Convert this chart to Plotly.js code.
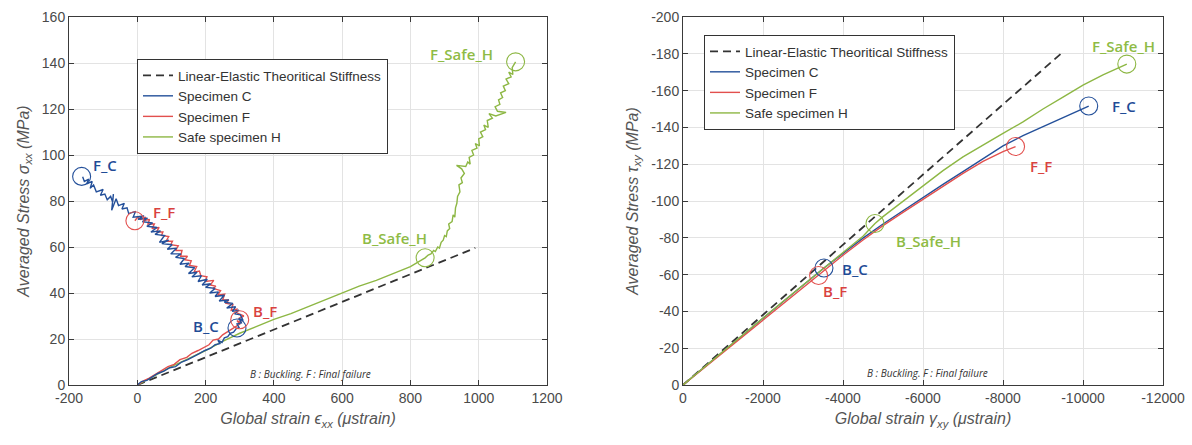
<!DOCTYPE html>
<html>
<head>
<meta charset="utf-8">
<script src="https://cdn.plot.ly/plotly-3.0.1.min.js"></script>
<style>html,body{margin:0;padding:0;background:#fff;}#chart{width:1192px;height:445px;}</style>
</head>
<body>
<div id="chart"></div>
<script>
// ---------- LEFT: sigma_xx vs epsilon_xx ----------
const leftElasticX = [0, 990];
const leftElasticY = [0, 59.6];

const leftCx = [0,12,28,45,60,78,95,112,130,148,165,180,198,215,228,242,236,248,255,265,272,282,290,298,292,305,298,310,302,285,298,278,288,262,280,255,268,240,255,228,238,212,228,200,215,190,205,178,188,160,175,150,168,140,152,125,138,112,128,98,115,88,102,72,92,65,80,52,68,40,58,28,45,15,30,2,20,-12,-5,-25,-30,-45,-38,-55,-62,-75,-70,-72,-78,-88,-95,-108,-100,-120,-128,-138,-132,-148,-142,-155,-160];
const leftCy = [0,1.5,2,3.5,5,6,7.5,8,10,11,12.5,13.5,15,16,17.5,18,19.5,18.5,20.5,21,22.5,23,24.5,25,26.5,27,29,28,30.5,31,32.5,32,34,33.5,35.5,36,37,36.5,39,38.5,40.5,40,42,42.5,44,43.5,46,45,47.5,47,49,48.5,51,51.5,53,52.5,55,55.5,57,57,59.5,59,61,61.5,63,62,65,65.5,67,66.5,68.5,69,70.5,71,72.5,72,73.5,73,75.5,74.5,77,76.5,79,78,81,76,83,79.5,82,80.5,83,82.5,85,84,87,85.5,88.5,87.5,89.5,88.5,90.5];

const leftFx = [0,18,35,55,72,90,108,125,145,160,178,195,210,222,238,250,262,275,288,300,292,305,298,312,290,292,275,280,260,268,250,256,235,244,222,230,214,224,198,204,186,182,166,174,153,158,139,147,127,131,112,120,98,103,84,92,71,75,56,64,43,50,31,36,19,25,10,1,-7];
const leftFy = [0,1.8,3,4.8,6,8,9,11,12,13.8,15,16.5,17.5,19.5,20,21.8,23,24,25.5,26.5,28,27,29,30,31.5,33,32.5,35,35.5,37,37,39.5,39,41,42,43,43.5,45.5,45,47,47.5,49.5,49,51.5,52,54,54.5,56,56,58.5,58.5,60.5,61,62.5,62.5,64.5,65,66.5,66.5,68.5,68,70,70,72,71.5,73,72,73,71.4];

const leftHx = [0,50,100,150,200,250,300,350,400,450,500,550,600,650,700,750,800,843,852,860,868,873,880,885,890,896,900,905,908,915,912,922,925,930,932,936,938,945,942,952,948,958,950,935,962,968,975,972,985,980,995,990,1002,1000,1012,1005,1020,1015,1028,1025,1040,1030,1050,1080,1055,1048,1062,1058,1070,1064,1078,1072,1088,1080,1095,1088,1100,1098,1108];
const leftHy = [0,4,8,11.5,15,19,22.5,25.5,28.5,31,34,37,40,43,45.5,48.5,51.5,55.3,56.5,57,58.5,58,60,59.5,62,63,65,64.5,67,68,70,71,74,73,77,79,82,84,87,88,90,92,94,95.5,95,97,96,99,100,102,103,105,104,107,108,110,111,113,112,115,116,118,117,118.5,119,121,122,124,125,127,128,130,131,133,134,136,135,138,140.5];

// event points (circles) left
const leftEventsC = {x: [292, -163], y: [24.8, 90.7]};
const leftEventsF = {x: [300, -7], y: [28.4, 71.4]};
const leftEventsH = {x: [843, 1108], y: [55.3, 140.5]};

// ---------- RIGHT: tau_xy vs gamma_xy ----------
const rightElasticX = [0, -9476];
const rightElasticY = [0, -180.6];

const rightCx = [0,-500,-1000,-1500,-2000,-2500,-3000,-3524,-4000,-4500,-5000,-5500,-6000,-6500,-7000,-7500,-8000,-8500,-9000,-9500,-9800,-10143];
const rightCy = [0,-9.2,-18.3,-27.2,-36.3,-45.2,-54.3,-63.6,-71.5,-79.8,-87.5,-94.8,-101.8,-109,-116,-123,-130,-135.5,-140.5,-145.5,-148.5,-151.6];

const rightFx = [0,-500,-1000,-1500,-2000,-2500,-3000,-3390,-4000,-4500,-5000,-5500,-6000,-6500,-7000,-7500,-8000,-8314];
const rightFy = [0,-8.8,-17.6,-26.5,-35.5,-44.3,-53,-59.5,-70.5,-78.8,-86.6,-93.8,-100.8,-108,-115,-121.5,-126.8,-129.6];

const rightHx = [0,-500,-1000,-1500,-2000,-2500,-3000,-3500,-4000,-4500,-4800,-5000,-5500,-6000,-6500,-7000,-7500,-8000,-8500,-9000,-9500,-10000,-10500,-11095];
const rightHy = [0,-9.2,-18.3,-27.4,-36.4,-45.4,-54.4,-63.3,-72,-80.8,-87.8,-91.5,-100,-108.5,-116.5,-124,-130.5,-136.7,-143,-150,-156.5,-163,-168.5,-174.4];

const rightEventsC = {x: [-3524, -10143], y: [-63.6, -151.6]};
const rightEventsF = {x: [-3390, -8314], y: [-59.5, -129.6]};
const rightEventsH = {x: [-4800, -11095], y: [-87.8, -174.4]};

// tick labels
const leftXTicks = [-200,0,200,400,600,800,1000,1200];
const leftYTicks = [0,20,40,60,80,100,120,140,160];
const rightXTicks = [0,-2000,-4000,-6000,-8000,-10000,-12000];
const rightYTicks = [0,-20,-40,-60,-80,-100,-120,-140,-160,-180,-200];

const legendNames = ['Linear-Elastic Theoritical Stiffness','Specimen C','Specimen F','Safe specimen H'];

// ---------- styling ----------
const BLUE = '#24509A', RED = '#E2504E', GREEN = '#8DB744';
const BLUE_T = '#1F4C96', RED_T = '#D9423F', GREEN_T = '#8EBB45';

function series(x, y, name, rank, color, xa, ya, lg, dash) {
  return {x, y, name, legendrank: rank, type:'scatter', mode:'lines', xaxis:xa, yaxis:ya, legend:lg,
    line:{color, width: dash ? 1.8 : 1.4, dash: dash ? '8px,5px' : 'solid'}};
}
function circles(ev, color, xa, ya) {
  return {x: ev.x, y: ev.y, type:'scatter', mode:'markers', xaxis:xa, yaxis:ya, showlegend:false,
    marker:{symbol:'circle-open', size:18, color, line:{color, width:1.1}}};
}

const data = [
  series(leftElasticX, leftElasticY, legendNames[0], 1, '#333', 'x', 'y', 'legend', true),
  series(leftHx, leftHy, legendNames[3], 4, GREEN, 'x', 'y', 'legend'),
  series(leftFx, leftFy, legendNames[2], 3, RED, 'x', 'y', 'legend'),
  series(leftCx, leftCy, legendNames[1], 2, BLUE, 'x', 'y', 'legend'),
  circles(leftEventsC, BLUE, 'x', 'y'),
  circles(leftEventsF, RED, 'x', 'y'),
  circles(leftEventsH, GREEN, 'x', 'y'),
  series(rightElasticX, rightElasticY, legendNames[0], 1, '#333', 'x2', 'y2', 'legend2', true),
  series(rightCx, rightCy, legendNames[1], 2, BLUE, 'x2', 'y2', 'legend2'),
  series(rightFx, rightFy, legendNames[2], 3, RED, 'x2', 'y2', 'legend2'),
  series(rightHx, rightHy, legendNames[3], 4, GREEN, 'x2', 'y2', 'legend2'),
  circles(rightEventsC, BLUE, 'x2', 'y2'),
  circles(rightEventsF, RED, 'x2', 'y2'),
  circles(rightEventsH, GREEN, 'x2', 'y2')
];
const tickFont = {family:'Liberation Sans, Arial, sans-serif', size:14, color:'#4a4a4a'};
const titleFont = {family:'Liberation Sans, Arial, sans-serif', size:16, color:'#555'};
function axis(domain, range, ticks, anchor, titleText) {
  return {domain, range, anchor, tickvals: ticks, ticktext: ticks.map(String),
    showgrid:true, gridcolor:'#e3e3e3', gridwidth:1, zeroline:false,
    showline:true, linecolor:'#3a3a3a', linewidth:1, mirror:'ticks',
    ticks:'inside', ticklen:5, tickcolor:'#3a3a3a', tickfont:tickFont,
    title:{text:titleText, font:titleFont, standoff:8}};
}

const lbl = (text, x, y, color, xref, yref, size) => ({text, x, y, xref, yref, showarrow:false,
  font:{family:'Open Sans, Noto Sans, sans-serif', size: size || 15, color, weight:600}});

const annotations = [
  lbl('F_C', -96, 95.8, BLUE_T, 'x', 'y'),
  lbl('F_F', 79, 75.4, RED_T, 'x', 'y'),
  lbl('B_C', 201, 25.8, BLUE_T, 'x', 'y'),
  lbl('B_F', 374, 32, RED_T, 'x', 'y'),
  lbl('B_Safe_H', 753, 64, GREEN_T, 'x', 'y'),
  lbl('F_Safe_H', 950, 143.8, GREEN_T, 'x', 'y'),
  {text:'<i>B : Buckling. F : Final failure</i>', x:508, y:4.7, xref:'x', yref:'y', showarrow:false,
   font:{family:'Open Sans, sans-serif', size:10, color:'#333'}},
  lbl('F_Safe_H', -11000, -184, GREEN_T, 'x2', 'y2'),
  lbl('F_C', -11029, -151.6, BLUE_T, 'x2', 'y2'),
  lbl('F_F', -8952, -119, RED_T, 'x2', 'y2'),
  lbl('B_Safe_H', -6143, -78, GREEN_T, 'x2', 'y2'),
  lbl('B_C', -4305, -63, BLUE_T, 'x2', 'y2'),
  lbl('B_F', -3810, -51, RED_T, 'x2', 'y2'),
  {text:'<i>B : Buckling. F : Final failure</i>', x:-6114, y:-6.5, xref:'x2', yref:'y2', showarrow:false,
   font:{family:'Open Sans, sans-serif', size:10, color:'#333'}}
];

const legendStyle = (x, y) => ({x, y, xanchor:'left', yanchor:'top', bgcolor:'#fff',
  bordercolor:'#333', borderwidth:1, font:{family:'Liberation Sans, Arial, sans-serif', size:13.5, color:'#333'},
  tracegroupgap:0, itemwidth:30, traceorder:'normal'});

const yDom = [1-385/445, 1-17/445];
const layout = {
  width:1192, height:445, margin:{l:0, r:0, t:0, b:0},
  paper_bgcolor:'#fff', plot_bgcolor:'#fff', showlegend:true,
  xaxis: axis([69/1192, 547/1192], [-200,1200], leftXTicks, 'y', '<i>Global strain ϵ<sub>xx</sub> (μstrain)</i>'),
  yaxis: axis(yDom, [0,160], leftYTicks, 'x', '<i>Averaged Stress σ<sub>xx</sub> (MPa)</i>'),
  xaxis2: axis([683/1192, 1163/1192], [0,-12000], rightXTicks, 'y2', '<i>Global strain γ<sub>xy</sub> (μstrain)</i>'),
  yaxis2: axis(yDom, [0,-200], rightYTicks, 'x2', '<i>Averaged Stress τ<sub>xy</sub> (MPa)</i>'),
  legend: legendStyle(137/1192, 1-59/445),
  legend2: legendStyle(704/1192, 1-35/445),
  annotations
};
Plotly.newPlot('chart', data, layout, {staticPlot:true, displayModeBar:false});
</script>
</body>
</html>
